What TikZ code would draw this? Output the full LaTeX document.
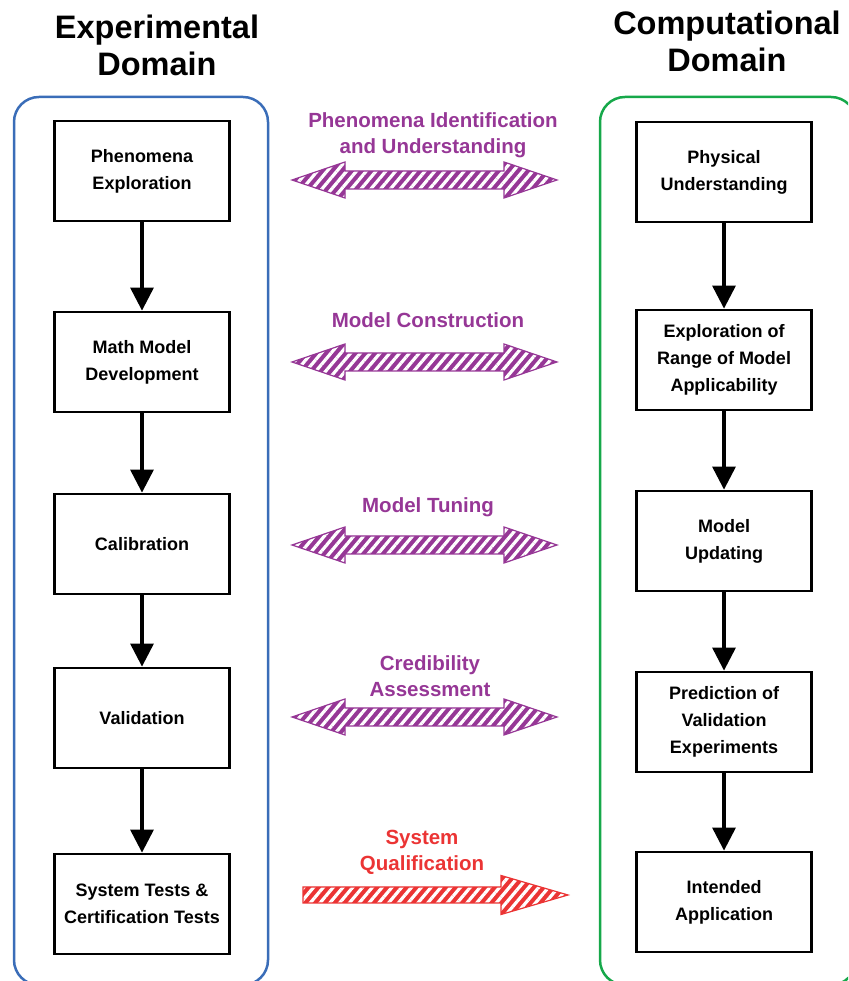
\documentclass[tikz,border=0pt]{standalone}
\usepackage{fontspec}
\setmainfont{Liberation Sans}
\usetikzlibrary{arrows.meta,patterns.meta}
\definecolor{domainblue}{RGB}{58,109,184}
\definecolor{domaingreen}{RGB}{22,168,74}
\definecolor{linkpurple}{RGB}{150,55,150}
\definecolor{linkred}{RGB}{235,52,52}

\begin{document}
\begin{tikzpicture}[x=1pt,y=1pt,->,>={Triangle[width=23pt,length=23pt]},node distance=185pt,
    box node/.style={rectangle,draw,line width=2.8pt,minimum width=175pt,minimum height=100pt,align=center,font=\bfseries\fontsize{18}{27}\selectfont},
    title node/.style={align=center,font=\bfseries\fontsize{32.5}{37}\selectfont},
    link label/.style={align=center,text=linkpurple,font=\bfseries\fontsize{20.5}{26}\selectfont},
    hatched/.style={-,draw=#1,line width=1.2pt,preaction={fill=#1},pattern={Lines[angle=50,distance=7.5pt,line width=3.2pt]},pattern color=white},
    two way/.pic={\draw[hatched=linkpurple] (-132.5,0) -- (-79.5,18) -- (-79.5,9) -- (79.5,9) -- (79.5,18) -- (132.5,0) -- (79.5,-18) -- (79.5,-9) -- (-79.5,-9) -- (-79.5,-18) -- cycle;},
    one way/.pic={\draw[hatched=linkred] (-132.5,8) -- (65.5,8) -- (65.5,19.5) -- (132.5,0) -- (65.5,-19.5) -- (65.5,-8) -- (-132.5,-8) -- cycle;}]
    \clip (0,0) rectangle (848,981);

    % the two domains
    \draw[-,domainblue,line width=2.5pt,rounded corners=25pt] (14,-4) rectangle (268,884);
    \draw[-,domaingreen,line width=2.5pt,rounded corners=25pt] (600,-4) rectangle (856,884);
    \node[title node] (t1) at (157,936) {Experimental\\Domain};
    \node[title node] (t2) at (727,940) {Computational\\Domain};

    % experimental side
    \node[box node] (1) at (142,810) {Phenomena\\Exploration};
    \node[box node] (2) [below of=1, yshift=-6] {Math Model\\Development};
    \node[box node] (3) [below of=2, yshift=3] {Calibration};
    \node[box node] (4) [below of=3, yshift=11] {Validation};
    \node[box node] (5) [below of=4, yshift=-1] {System Tests \&\\Certification Tests};

    % computational side
    \node[box node] (6) at (724,809) {Physical\\Understanding};
    \node[box node] (7) [below of=6, yshift=-3] {Exploration of\\Range of Model\\Applicability};
    \node[box node] (8) [below of=7, yshift=4] {Model\\Updating};
    \node[box node] (9) [below of=8, yshift=4] {Prediction of\\Validation\\Experiments};
    \node[box node] (10) [below of=9, yshift=5] {Intended\\Application};

    \path[line width=3.2pt]
        (1) edge (2)
        (2) edge (3)
        (3) edge (4)
        (4) edge (5)
        (6) edge (7)
        (7) edge (8)
        (8) edge (9)
        (9) edge (10)
        ;

    % links between the domains
    \pic (11) at (424.5,801) {two way};
    \pic (12) at (424.5,619) {two way};
    \pic (13) at (424.5,436) {two way};
    \pic (14) at (424.5,264) {two way};
    \pic (15) at (435.5,86) {one way};

    \node[link label] (l1) at (433,846) {Phenomena Identification\\and Understanding};
    \node[link label] (l2) at (428,661) {Model Construction};
    \node[link label] (l3) at (428,474) {Model Tuning};
    \node[link label] (l4) at (430,305) {Credibility\\Assessment};
    \node[link label,text=linkred] (l5) at (422,129) {System\\Qualification};
\end{tikzpicture}
\end{document}
